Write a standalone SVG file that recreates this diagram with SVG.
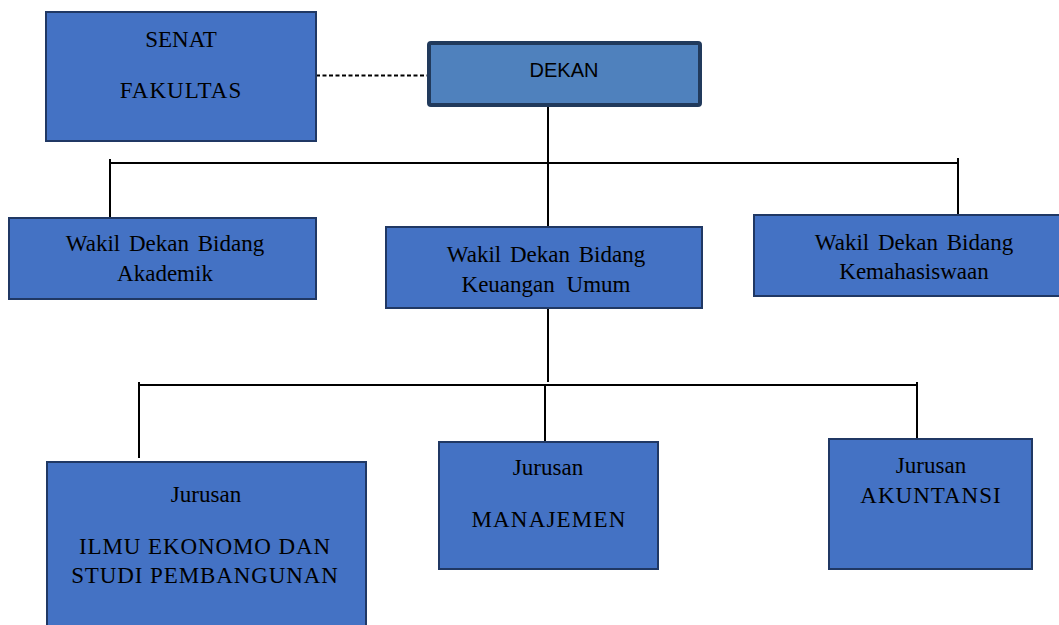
<svg xmlns="http://www.w3.org/2000/svg" width="1059" height="625" viewBox="0 0 1059 625">
<style>
.box{fill:#4472c4;stroke:#203864;stroke-width:2}
.dekan{fill:#4f81bd;stroke:#213a5c;stroke-width:4}
.t{font-family:"Liberation Serif","Times New Roman",serif;font-size:23px;fill:#000;text-anchor:middle}
.w{word-spacing:3px}
.ts{font-family:"Liberation Sans",Arial,sans-serif;font-size:20px;fill:#000;text-anchor:middle}
.c{stroke:#000;stroke-width:2;fill:none}
</style>
<rect width="1059" height="625" fill="#fff"/>
<g id="connectors">
<line class="c" x1="316" y1="75.5" x2="427" y2="75.5" stroke-dasharray="4,2.5"/>
<line class="c" x1="548" y1="107" x2="548" y2="227"/>
<line class="c" x1="110" y1="163" x2="958" y2="163"/>
<line class="c" x1="110" y1="159" x2="110" y2="218"/>
<line class="c" x1="958" y1="158" x2="958" y2="215"/>
<line class="c" x1="548" y1="309" x2="548" y2="382"/>
<line class="c" x1="139" y1="385" x2="917" y2="385"/>
<line class="c" x1="139" y1="382" x2="139" y2="458"/>
<line class="c" x1="545" y1="385" x2="545" y2="442"/>
<line class="c" x1="917" y1="382" x2="917" y2="439"/>
</g>
<g id="senat">
<rect class="box" x="46" y="12" width="270" height="129"/>
<text class="t" x="181" y="47">SENAT</text>
<text class="t" x="181" y="98" letter-spacing="1">FAKULTAS</text>
</g>
<g id="dekan">
<rect class="dekan" x="429" y="43" width="271" height="62" rx="2"/>
<text class="ts" x="564" y="77">DEKAN</text>
</g>
<g id="wd-akademik">
<rect class="box" x="9" y="218" width="307" height="81"/>
<text class="t w" x="165" y="251">Wakil Dekan Bidang</text>
<text class="t" x="165" y="281">Akademik</text>
</g>
<g id="wd-keuangan">
<rect class="box" x="386" y="227" width="316" height="81"/>
<text class="t w" x="546" y="262">Wakil Dekan Bidang</text>
<text class="t" x="546" y="292" word-spacing="6">Keuangan Umum</text>
</g>
<g id="wd-kemahasiswaan">
<rect class="box" x="754" y="215" width="310" height="81"/>
<text class="t w" x="914" y="250">Wakil Dekan Bidang</text>
<text class="t" x="914" y="279">Kemahasiswaan</text>
</g>
<g id="j-iesp">
<rect class="box" x="47" y="462" width="319" height="175"/>
<text class="t" x="206" y="502">Jurusan</text>
<text class="t" x="205" y="554" letter-spacing="0.9">ILMU EKONOMO DAN</text>
<text class="t" x="205" y="583" letter-spacing="0.9">STUDI PEMBANGUNAN</text>
</g>
<g id="j-manajemen">
<rect class="box" x="439" y="442" width="219" height="127"/>
<text class="t" x="548" y="475">Jurusan</text>
<text class="t" x="549" y="527" letter-spacing="1.2">MANAJEMEN</text>
</g>
<g id="j-akuntansi">
<rect class="box" x="829" y="439" width="203" height="130"/>
<text class="t" x="931" y="473">Jurusan</text>
<text class="t" x="931" y="503" letter-spacing="1">AKUNTANSI</text>
</g>
</svg>
